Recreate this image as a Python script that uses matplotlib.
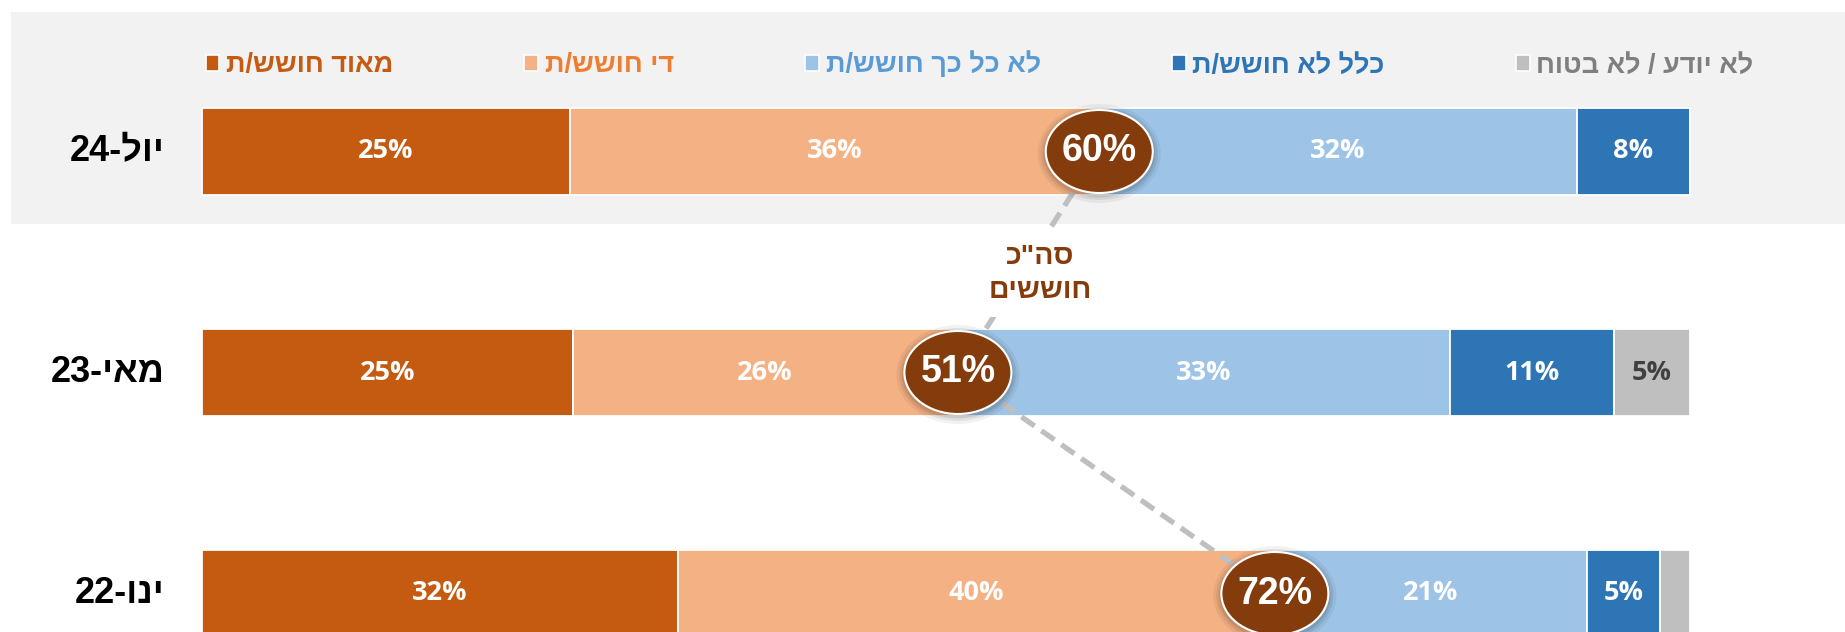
import re
import matplotlib
matplotlib.use("Agg")
import matplotlib.pyplot as plt
from matplotlib.patches import Ellipse, Rectangle, Patch
import numpy as np

# ---------------- data ----------------
periods = ["יול-24", "מאי-23", "ינו-22"]
categories = ["מאוד חושש/ת", "די חושש/ת", "לא כל כך חושש/ת", "כלל לא חושש/ת", "לא יודע / לא בטוח"]
very_worried = [24.7, 24.9, 32.0]
fairly_worried = [35.6, 25.9, 40.1]
not_so_worried = [32.1, 33.1, 21.0]
not_at_all = [7.6, 11.0, 4.9]
dont_know = [0.0, 5.1, 2.0]
total_title = ['סה"כ', "חוששים"]

bar_colors = ["#C55A11", "#F4B183", "#9DC3E6", "#2E75B6", "#BFBFBF"]
legend_text_colors = ["#C55A11", "#ED7D31", "#5B9BD5", "#2E75B6", "#7F7F7F"]
value_text_colors = ["white", "white", "white", "white", "#404040"]
circle_color = "#843C0C"

HEB = ["Liberation Sans", "DejaVu Sans"]
NUM = ["Open Sans", "DejaVu Sans"]


def vis(s):
    """Visual (left-to-right) order for an RTL string."""
    r = s[::-1]
    return re.sub(r"\d+", lambda m: m.group(0)[::-1], r)


# ---------------- figure ----------------
W, H = 1845, 632
fig = plt.figure(figsize=(W / 100, H / 100), dpi=100)
ax = fig.add_axes([0, 0, 1, 1])
ax.set_facecolor("none")
fig.patch.set_facecolor("white")

px_per_pct = 14.88
x_left_px = 202
ax.set_xlim(-x_left_px / px_per_pct, (W - x_left_px) / px_per_pct)
row_px = 221
row0_px = 151.5
ax.set_ylim((H - row0_px) / row_px, -row0_px / row_px)
ax.axis("off")

# gray panel for latest period
ax.add_patch(Rectangle((11 / W, (H - 224) / H), 1 - 11 / W, (224 - 12) / H,
                       transform=ax.transAxes, facecolor="#F2F2F2",
                       edgecolor="none", zorder=0))

series = [very_worried, fairly_worried, not_so_worried, not_at_all, dont_know]
y = np.arange(len(periods))
bar_h = 87 / row_px
left = np.zeros(len(periods))
for vals, col, tcol in zip(series, bar_colors, value_text_colors):
    vals = np.array(vals)
    ax.barh(y, vals, left=left, height=bar_h, color=col, edgecolor="white",
            linewidth=1.3, zorder=2)
    for yi, (l, v) in enumerate(zip(left, vals)):
        if v >= 3:
            ax.text(l + v / 2, yi, f"{round(v)}%", ha="center", va="center",
                    color=tcol, fontsize=19.5, fontweight="bold", family=NUM, zorder=4)
    left = left + vals

# period labels
for yi, p in enumerate(periods):
    ax.text((165 - x_left_px) / px_per_pct, yi, vis(p), ha="right", va="center",
            fontsize=26, fontweight="bold", family=HEB, color="black", zorder=4)

# totals of worried
totals = np.array(very_worried) + np.array(fairly_worried)
ax.plot(totals, y, color="#BFBFBF", lw=3.8, linestyle=(0, (3, 1.6)), zorder=3,
        solid_capstyle="butt")

ew, eh = 107 / px_per_pct, 83 / row_px
for yi, t in enumerate(totals):
    for k, a in [(8, 0.05), (5, 0.07), (2.5, 0.09)]:
        ax.add_patch(Ellipse((t, yi + 2 / row_px), ew + 2 * k / px_per_pct,
                             eh + 2 * k / row_px, facecolor="black",
                             edgecolor="none", alpha=a, zorder=4.5))
    ax.add_patch(Ellipse((t, yi), ew, eh, facecolor=circle_color,
                         edgecolor="white", linewidth=1.5, zorder=5))
    ax.text(t, yi, f"{round(t)}%", ha="center", va="center", color="white",
            fontsize=27, fontweight="bold", family=HEB, zorder=6)

# total annotation
ax.text((1040 - x_left_px) / px_per_pct, (274 - row0_px) / row_px,
        "\n".join(vis(s) for s in total_title), ha="center", va="center",
        color=circle_color, fontsize=20.5, fontweight="bold", family=HEB,
        linespacing=1.4, zorder=3.5,
        bbox=dict(boxstyle="square,pad=0.45", facecolor="white", edgecolor="none"))

# legend
handles = [Patch(facecolor=c, edgecolor="white", linewidth=1.2) for c in bar_colors]
leg = ax.legend(handles, [vis(c) for c in categories], ncol=5, loc="center",
                bbox_to_anchor=(979.5 / W, (H - 65) / H), frameon=False,
                prop=dict(family=HEB, weight="bold", size=19.5),
                handlelength=0.5, handleheight=0.5, handletextpad=0.25,
                columnspacing=4.85, borderpad=0)
for txt, c in zip(leg.get_texts(), legend_text_colors):
    txt.set_color(c)

fig.savefig("out.png", dpi=100, facecolor="white")
